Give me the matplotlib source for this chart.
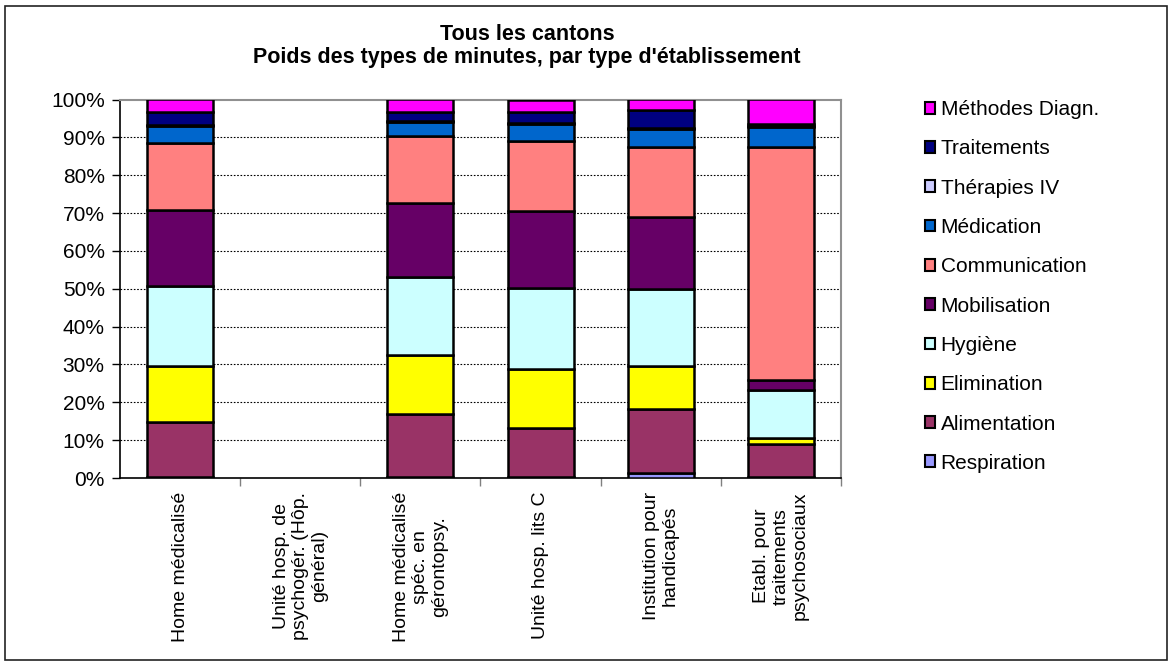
import matplotlib
matplotlib.use("Agg")
import matplotlib.pyplot as plt
from matplotlib.patches import Rectangle, Patch
from matplotlib.ticker import FixedLocator, PercentFormatter
import numpy as np

plt.rcParams['font.family'] = ['Liberation Sans', 'DejaVu Sans']

categories = [
    "Home médicalisé",
    "Unité hosp. de\npsychogér. (Hôp.\ngénéral)",
    "Home médicalisé\nspéc. en\ngérontopsy.",
    "Unité hosp. lits C",
    "Institution pour\nhandicapés",
    "Etabl. pour\ntraitements\npsychosociaux",
]

# Share of each type of minutes (%), stacked from bottom to top
series_names = ["Respiration", "Alimentation", "Elimination", "Hygiène",
                "Mobilisation", "Communication", "Médication", "Thérapies IV",
                "Traitements", "Méthodes Diagn."]
respiration   = [0.3, 0, 0.3, 0.3, 1.4, 0.2]
alimentation  = [14.4, 0, 16.5, 12.8, 16.7, 8.7]
elimination   = [15.0, 0, 15.8, 15.8, 11.5, 1.6]
hygiene       = [21.0, 0, 20.5, 21.4, 20.3, 12.7]
mobilisation  = [20.2, 0, 19.5, 20.2, 19.0, 2.8]
communication = [17.7, 0, 17.7, 18.5, 18.5, 61.4]
medication    = [4.4, 0, 3.7, 4.6, 4.9, 5.3]
therapies_iv  = [0.2, 0, 0.2, 0.2, 0.2, 0.2]
traitements   = [3.4, 0, 2.4, 2.8, 4.6, 0.7]
methodes      = [3.4, 0, 3.4, 3.4, 2.9, 6.4]

series_values = [respiration, alimentation, elimination, hygiene, mobilisation,
                 communication, medication, therapies_iv, traitements, methodes]
series_colors = ["#9999FF", "#993366", "#FFFF00", "#CCFFFF", "#660066",
                 "#FF8080", "#0066CC", "#CCCCFF", "#000080", "#FF00FF"]

y_ticks = [0, 10, 20, 30, 40, 50, 60, 70, 80, 90, 100]

W, H = 1169, 661
fig = plt.figure(figsize=(W / 100, H / 100), dpi=100)

# outer chart frame
fig.patches.append(Rectangle((5 / W, 1.5 / H), 1162 / W, 654 / H,
                             transform=fig.transFigure, fill=False,
                             edgecolor="#222222", linewidth=1.2))

ax = fig.add_axes([120 / W, 1 - 478 / H, (841 - 120) / W, (478 - 99.5) / H])

x = np.arange(len(categories))
bottom = np.zeros(len(categories))
for name, vals, col in zip(series_names, series_values, series_colors):
    vals = np.array(vals, dtype=float)
    mask = vals > 0
    ax.bar(x[mask], vals[mask], bottom=bottom[mask], width=0.55, color=col,
           edgecolor="black", linewidth=1.8, zorder=3)
    bottom += vals

ax.set_xlim(-0.5, len(categories) - 0.5)
ax.set_ylim(0, 100)

for y in y_ticks[1:-1]:
    ax.axhline(y, color="black", linestyle=(0, (1.5, 1.5)), linewidth=0.8, zorder=1)

ax.yaxis.set_major_locator(FixedLocator(y_ticks))
ax.yaxis.set_major_formatter(PercentFormatter(decimals=0))
ax.tick_params(axis="y", direction="out", length=6, width=1, labelsize=15,
               pad=5, colors="black")

ax.set_xticks(x)
ax.set_xticklabels(categories, rotation=90, fontsize=14, linespacing=1.15,
                   ha="center", va="top", multialignment="center")
ax.tick_params(axis="x", which="major", length=0, pad=10)
ax.set_xticks(np.arange(-0.5, len(categories) + 0.5, 1)[1:], minor=True)
ax.tick_params(axis="x", which="minor", direction="out", length=6, width=1,
               color="#808080")

ax.spines["left"].set_color("black")
ax.spines["left"].set_linewidth(1.2)
ax.spines["bottom"].set_color("black")
ax.spines["bottom"].set_linewidth(1.2)
ax.spines["top"].set_color("#909090")
ax.spines["top"].set_linewidth(1.5)
ax.spines["right"].set_color("#909090")
ax.spines["right"].set_linewidth(1.5)

fig.text(527 / W, 1 - 34 / H, "Tous les cantons", ha="center", va="center",
         fontsize=15.5, fontweight="bold")
fig.text(527 / W, 1 - 57 / H, "Poids des types de minutes, par type d'établissement",
         ha="center", va="center", fontsize=15.5, fontweight="bold")

handles = [Patch(facecolor=c, edgecolor="black", linewidth=1.5, label=n)
           for n, c in zip(series_names, series_colors)][::-1]
fig.legend(handles=handles, loc="upper left",
           bbox_to_anchor=(925 / W, 1 - 100 / H), frameon=False, fontsize=15,
           handlelength=0.5, handleheight=0.5, handletextpad=0.25,
           labelspacing=0.975, borderpad=0, borderaxespad=0)

fig.savefig("out.png", dpi=100)
